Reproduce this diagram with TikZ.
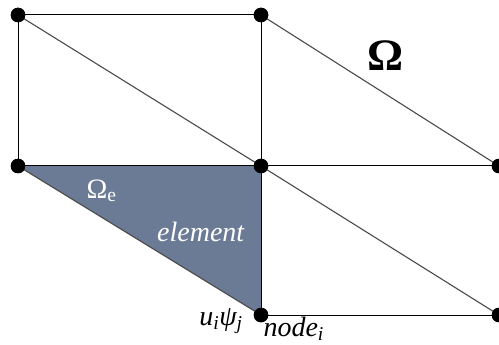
\documentclass[tikz,border=0pt]{standalone}
\usepackage{fontspec}
\setmainfont{Liberation Serif}
\definecolor{elemfill}{HTML}{6B7A95}
\definecolor{diagline}{HTML}{4A4A4A}

\begin{document}
\begin{tikzpicture}[x=1pt, y=-1pt, line width=1pt,
  meshpt/.style={circle, fill=black, inner sep=0pt, minimum size=14.5pt},
  edge/.style={black, line width=1pt},
  diag/.style={diagline, line width=1.1pt},
  lbl/.style={font=\fontsize{28}{32}\selectfont, anchor=base}]
  \useasboundingbox (0,0) rectangle (499,345);

  % mesh points
  \node[meshpt] (tl) at (18,15)   {};
  \node[meshpt] (tm) at (261,15)  {};
  \node[meshpt] (ml) at (18,166)  {};
  \node[meshpt] (mm) at (261,166) {};
  \node[meshpt] (mr) at (499,166) {};
  \node[meshpt] (bm) at (261,315) {};
  \node[meshpt] (br) at (499,315) {};

  % the shaded element
  \fill[elemfill] (ml.center) -- (mm.center) -- (bm.center) -- cycle;

  % element edges
  \draw[edge] (tl.center) -- (tm.center) -- (mm.center) -- (ml.center) -- cycle;
  \draw[edge] (mm.center) -- (mr.center);
  \draw[edge] (mm.center) -- (bm.center) -- (br.center) -- (mr.center);

  % diagonals
  \draw[diag] (tl.center) -- (mm.center);
  \draw[diag] (tm.center) -- (mr.center);
  \draw[diag] (ml.center) -- (bm.center);
  \draw[diag] (mm.center) -- (br.center);

  % points on top of the lines
  \foreach \p in {tl,tm,ml,mm,mr,bm,br}
    \fill (\p) circle (7.3pt);

  % labels
  \node[font=\fontsize{45}{50}\selectfont\bfseries, anchor=base] (dom) at (386,71) {Ω};
  \node[lbl, white, anchor=base west, inner sep=0pt] (sub) at (86,198) {Ω\textsubscript{e}};
  \node[lbl, white, inner sep=0pt] (elem) at (201,241) {\textit{element}};
  \node[lbl, inner sep=0pt] (shape) at (221,325) {\textit{u\textsubscript{i}ψ\textsubscript{j}}};
  \node[lbl, anchor=base west, inner sep=0pt] (nodei) at (263,336) {\textit{node\textsubscript{i}}};
\end{tikzpicture}
\end{document}
